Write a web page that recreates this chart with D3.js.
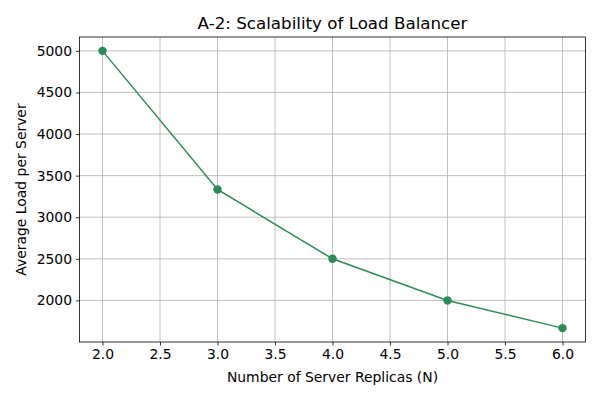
<!DOCTYPE html>
<html>
<head>
<meta charset="utf-8">
<script src="https://cdn.jsdelivr.net/npm/d3@7"></script>
<style>
  body { margin: 0; background: #fff; }
  text { font-family: "DejaVu Sans", sans-serif; fill: #000; }
</style>
</head>
<body>
<div id="chart"></div>
<script>
var replicas = [2, 3, 4, 5, 6];
var avgLoad = [5000, 3333.33, 2500, 2000, 1666.67];
var xTicks = [2.0, 2.5, 3.0, 3.5, 4.0, 4.5, 5.0, 5.5, 6.0];
var yTicks = [2000, 2500, 3000, 3500, 4000, 4500, 5000];

var width = 600, height = 400;
var margin = {top: 37, right: 14.5, bottom: 58, left: 79.5};
var innerW = width - margin.left - margin.right;
var innerH = height - margin.top - margin.bottom;
var lineColor = "#2e8b57";

var svg = d3.select("#chart").append("svg")
	.attr("width", width)
	.attr("height", height);

var g = svg.append("g")
	.attr("transform", "translate(" + margin.left + "," + margin.top + ")");

var x = d3.scaleLinear().domain([1.8, 6.2]).range([0, innerW]);
var y = d3.scaleLinear().domain([1500, 5166.67]).range([innerH, 0]);

// grid
g.selectAll(".vgrid").data(xTicks).enter().append("line")
	.attr("x1", function (d) { return x(d); })
	.attr("x2", function (d) { return x(d); })
	.attr("y1", 0).attr("y2", innerH)
	.attr("stroke", "#b0b0b0").attr("stroke-width", 0.8);
g.selectAll(".hgrid").data(yTicks).enter().append("line")
	.attr("y1", function (d) { return y(d); })
	.attr("y2", function (d) { return y(d); })
	.attr("x1", 0).attr("x2", innerW)
	.attr("stroke", "#b0b0b0").attr("stroke-width", 0.8);

// axes
var xAxis = g.append("g")
	.attr("transform", "translate(0," + innerH + ")")
	.call(d3.axisBottom(x).tickValues(xTicks).tickFormat(d3.format(".1f")).tickSize(3.5).tickPadding(4));
var yAxis = g.append("g")
	.call(d3.axisLeft(y).tickValues(yTicks).tickFormat(d3.format("d")).tickSize(3.5).tickPadding(4));
[xAxis, yAxis].forEach(function (a) {
	a.select(".domain").remove();
	a.selectAll("text").style("font-size", "13.9px").attr("fill", "#000");
	a.selectAll("line").attr("stroke", "#000").attr("stroke-width", 0.8);
});

// frame
g.append("rect")
	.attr("width", innerW).attr("height", innerH)
	.attr("fill", "none").attr("stroke", "#000").attr("stroke-width", 0.8);

// line + markers
var line = d3.line()
	.x(function (d, i) { return x(replicas[i]); })
	.y(function (d) { return y(d); });
g.append("path")
	.datum(avgLoad)
	.attr("d", line)
	.attr("fill", "none")
	.attr("stroke", lineColor)
	.attr("stroke-width", 1.5);
g.selectAll("circle").data(avgLoad).enter().append("circle")
	.attr("cx", function (d, i) { return x(replicas[i]); })
	.attr("cy", function (d) { return y(d); })
	.attr("r", 4.2)
	.attr("fill", lineColor);

// labels
svg.append("text")
	.attr("x", margin.left + innerW / 2).attr("y", 29)
	.attr("text-anchor", "middle")
	.style("font-size", "16.7px")
	.text("A-2: Scalability of Load Balancer");
svg.append("text")
	.attr("x", margin.left + innerW / 2).attr("y", 382)
	.attr("text-anchor", "middle")
	.style("font-size", "13.9px")
	.text("Number of Server Replicas (N)");
svg.append("text")
	.attr("transform", "translate(26," + (margin.top + innerH / 2) + ") rotate(-90)")
	.attr("text-anchor", "middle")
	.style("font-size", "13.9px")
	.text("Average Load per Server");
</script>
</body>
</html>
